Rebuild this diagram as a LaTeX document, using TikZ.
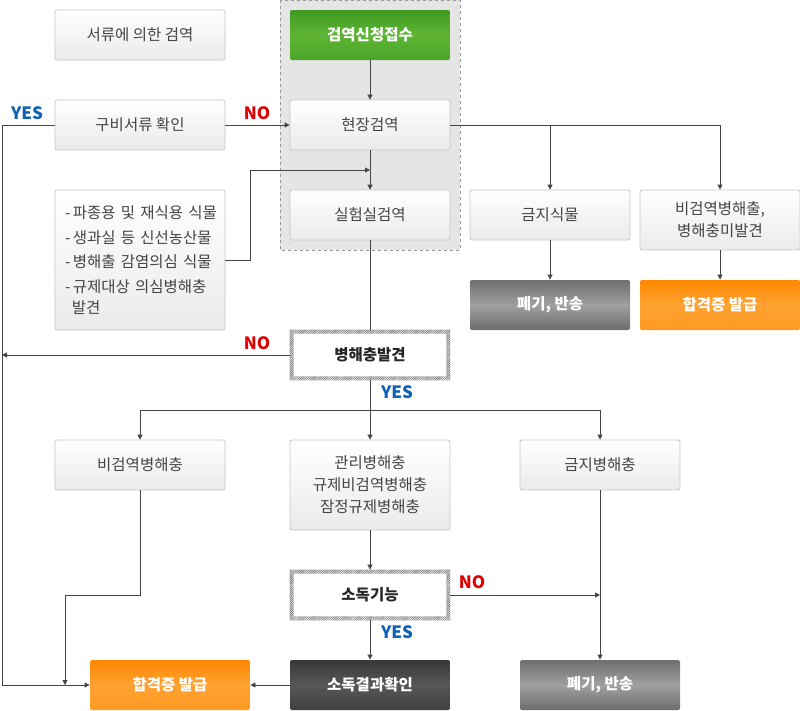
\documentclass[tikz,border=0pt]{standalone}
\usepackage{fontspec}
\setmainfont{Noto Sans CJK KR}
\usetikzlibrary{arrows.meta,patterns.meta}
\definecolor{txt}{HTML}{444444}
\definecolor{ln}{HTML}{444444}
\definecolor{yesc}{HTML}{0B62B8}
\definecolor{noc}{HTML}{E00000}
\definecolor{gtop}{HTML}{3F9A1F}
\definecolor{gmid}{HTML}{5FB535}
\definecolor{gbot}{HTML}{4AA528}
\definecolor{otop}{HTML}{FF8700}
\definecolor{omid}{HTML}{FFA232}
\definecolor{obot}{HTML}{FF9A22}
\definecolor{ytop}{HTML}{6E6E6E}
\definecolor{ymid}{HTML}{A0A0A0}
\definecolor{ybot}{HTML}{6C6C6C}
\definecolor{dtop}{HTML}{383838}
\definecolor{dmid}{HTML}{575757}
\definecolor{dbot}{HTML}{404040}
\tikzset{
  box/.style={draw=black!22, line width=0.8pt, rounded corners=2pt, top color=white, bottom color=black!8,
    text=txt, font=\fontsize{15.5}{22}\selectfont, align=center, minimum width=160pt, minimum height=50pt, inner sep=0pt},
  wide/.style={minimum width=170pt},
  solidbox/.style={box, draw=none, text=white, font=\bfseries\fontsize{15.5}{22}\selectfont},
  greenbox/.style={solidbox, top color=gtop, bottom color=gbot, middle color=gmid},
  orangebox/.style={solidbox, top color=otop, bottom color=obot, middle color=omid},
  graybox/.style={solidbox, top color=ytop, bottom color=ybot, middle color=ymid},
  darkbox/.style={solidbox, top color=dtop, bottom color=dbot, middle color=dmid},
  hatchbox/.style={box, draw=none, fill=white, shade=false, font=\bfseries\fontsize{15.5}{22}\selectfont, text=black!85},
  hatch/.style={pattern={Lines[angle=45,distance=1.3pt,line width=0.55pt]}, pattern color=black!60, even odd rule},
  conn/.style={draw=ln, line width=0.8pt},
  arr/.style={conn, -{Triangle[length=5pt,width=5pt]}},
  yeslbl/.style={text=yesc, font=\bfseries\fontsize{17}{17}\selectfont},
  nolbl/.style={text=noc, font=\bfseries\fontsize{17}{17}\selectfont},
}
\begin{document}
\begin{tikzpicture}[x=1pt,y=-1pt]
\useasboundingbox (0,0) rectangle (800,710);
% dashed region
\draw[fill=black!10, draw=black!40, dashed, line width=0.6pt] (280,0) rectangle (460,250);

% nodes
\node[box,wide] (doc) at (140,35) {서류에 의한 검역};
\node[greenbox] (apply) at (370,35) {검역신청접수};
\node[box,wide] (check) at (140,125) {구비서류 확인};
\node[box] (field) at (370,125) {현장검역};
\node[box] (lab) at (370,215) {실험실검역};
\node[box,wide,minimum height=140pt,align=left,text width=150pt,inner xsep=0pt,font=\fontsize{15.5}{24.5}\selectfont] (list) at (140,260)
  {\mbox{-\,파종용 및 재식용 식물}\\\mbox{-\,생과실 등 신선농산물}\\\mbox{-\,병해출 감염의심 식물}\\\mbox{-\,규제대상 의심병해충}\\[-3.5pt]\hspace*{0.45em}발견};
\node[box] (banp) at (550,215) {금지식물};
\node[box,minimum height=60pt] (nonq) at (720,220) {비검역병해출,\\병해충미발견};
\node[graybox] (disc1) at (550,305) {폐기, 반송};
\node[orangebox] (cert1) at (720,305) {합격증 발급};
\node[hatchbox] (found) at (370,355) {병해충발견};
\node[box,wide] (nonqp) at (140,465) {비검역병해충};
\node[box,minimum height=90pt] (mgmt) at (370,485) {관리병해충\\규제비검역병해충\\잠정규제병해충};
\node[box] (banpest) at (600,465) {금지병해충};
\node[hatchbox] (disinf) at (370,595) {소독기능};
\node[orangebox] (cert2) at (170,685) {합격증 발급};
\node[darkbox] (result) at (370,685) {소독결과확인};
\node[graybox] (disc2) at (600,685) {폐기, 반송};

% hatched borders
\fill[hatch] (found.north west) rectangle (found.south east)
  ([shift={(4,4)}]found.north west) rectangle ([shift={(-4,-4)}]found.south east);
\fill[hatch] (disinf.north west) rectangle (disinf.south east)
  ([shift={(4,4)}]disinf.north west) rectangle ([shift={(-4,-4)}]disinf.south east);

% coordinates
\coordinate (j1) at (370,170);
\coordinate (leftline) at (2,355);
\coordinate (bcert) at (65,685);
\coordinate (banv) at (600,595);
\coordinate (fork) at (550,125);

% connectors
\draw[arr] (apply) -- (field);
\draw[arr] (check) -- (field);
\draw[arr] (check.west) -- (2,125) |- (cert2.west);
\draw[arr] (field.east) -| (nonq.north);
\draw[arr] (fork) -- (banp.north);
\draw[arr] (field) -- (lab);
\draw[arr] (list.east) -- (250,260) |- (j1);
\draw[conn] (lab) -- (found);
\draw[arr] (found.west) -- (leftline);
\draw[arr] (banp) -- (disc1);
\draw[arr] (nonq) -- (cert1);
\draw[conn] (found.south) -- (370,410);
\draw[conn] (140,410) -- (600,410);
\draw[arr] (140,410) -- (nonqp.north);
\draw[arr] (370,410) -- (mgmt.north);
\draw[arr] (600,410) -- (banpest.north);
\draw[arr] (nonqp.south) -- (140,595) -| (bcert);
\draw[arr] (mgmt) -- (disinf);
\draw[arr] (disinf.east) -- (banv);
\draw[arr] (banpest) -- (disc2);
\draw[arr] (disinf) -- (result);
\draw[arr] (result) -- (cert2);

% labels
\node[yeslbl] (l1) at (27,113) {YES};
\node[nolbl] (l2) at (257,113) {NO};
\node[nolbl] (l3) at (257,343) {NO};
\node[yeslbl] (l4) at (397,392) {YES};
\node[nolbl] (l5) at (472,582) {NO};
\node[yeslbl] (l6) at (397,632) {YES};
\end{tikzpicture}
\end{document}
